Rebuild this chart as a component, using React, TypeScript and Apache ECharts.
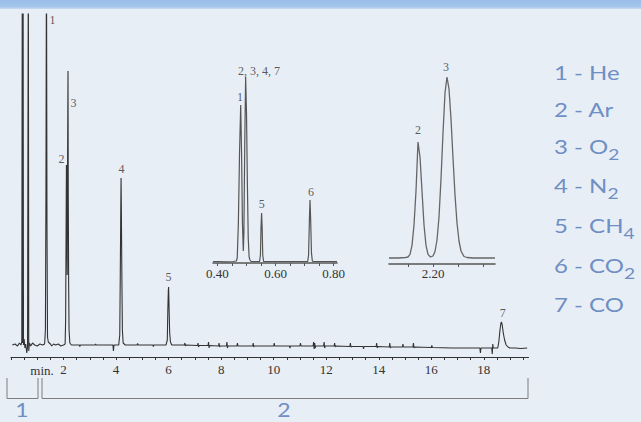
import React, { useEffect, useRef } from "react";
import * as echarts from "echarts";

// ---------- DATA ----------
// Main chromatogram: [time (min), signal]
const mainTrace: [number, number][] = [
  [0.05, 0], [0.15, 1], [0.25, -1], [0.32, 2], [0.38, 0], [0.41, 3], [0.43, 400], [0.445, 2], [0.46, 400], [0.475, 0],
  [0.5, 6], [0.53, -3], [0.56, 1], [0.6, -8], [0.63, -2], [0.66, 400], [0.675, -6], [0.7, 2], [0.75, -1], [0.82, 2],
  [0.9, 0], [1.0, -1], [1.1, 1], [1.2, 0], [1.28, 1], [1.31, 15], [1.33, 150], [1.35, 400], [1.37, 120], [1.39, 8],
  [1.42, 3], [1.5, 1], [1.55, -1], [1.62, 1], [1.7, 0], [1.8, 1], [1.9, -1], [2.0, 0], [2.06, 1], [2.08, 25],
  [2.1, 130], [2.11, 180], [2.12, 125], [2.14, 70], [2.155, 190], [2.17, 274], [2.18, 150], [2.195, 60], [2.21, 15], [2.24, 2],
  [2.3, 0], [2.6, 0], [2.62, -1.5], [2.64, 0], [3.2, 0], [3.22, 1], [3.24, 0], [3.88, 0], [3.9, -6], [3.92, 0],
  [4.1, 0], [4.14, 10], [4.16, 70], [4.18, 140], [4.19, 167], [4.2, 140], [4.22, 70], [4.24, 15], [4.27, 2], [4.35, 0],
  [4.8, 0], [4.82, 1.5], [4.84, 0], [5.4, 0], [5.42, -1.5], [5.44, 0], [5.9, 0], [5.95, 5], [5.97, 35], [5.99, 55],
  [6.0, 58], [6.02, 35], [6.04, 12], [6.07, 3], [6.12, 0], [6.6, 0], [6.62, 2], [6.64, -1], [6.66, 0], [7.1, -0.5],
  [7.12, 2], [7.14, -2], [7.16, -0.5], [7.5, -0.5], [7.52, 3], [7.54, -3], [7.56, -0.5], [7.9, -1], [7.92, 2], [7.94, -2],
  [7.96, -1], [8.2, -1], [8.22, 3], [8.24, -3], [8.26, -1], [8.6, -1], [8.62, 2], [8.64, -1], [9.2, -1], [9.22, 2],
  [9.24, -2], [9.26, -1], [10.0, -1], [10.02, 2], [10.04, -1], [10.6, -1], [10.62, -3], [10.64, -1], [11.0, -1], [11.02, 2],
  [11.04, -1], [11.5, -1], [11.52, 3], [11.54, -4], [11.56, 2], [11.58, -3], [11.6, -1], [11.9, -1], [11.92, 3], [11.94, -3],
  [11.96, -1], [12.3, -1], [12.32, 2], [12.34, -2], [12.36, -1], [12.9, -1.5], [12.92, 2], [12.94, -2], [12.96, -1.5], [13.4, -1.5],
  [13.42, -4], [13.44, -1.5], [13.9, -1.5], [13.92, 2], [13.94, -3], [13.96, -1.5], [14.4, -2], [14.42, 2], [14.44, -3], [14.46, -2],
  [14.9, -2], [14.92, 1], [14.94, -2], [15.3, -2], [15.32, 2], [15.34, -3], [15.36, -2], [16.0, -2.5], [16.02, -0.5], [16.04, -2.5],
  [16.8, -3], [17.4, -3], [17.85, -3], [17.87, -8], [17.89, -3], [18.3, -3], [18.32, -9], [18.34, 1], [18.36, -3], [18.53, -3],
  [18.57, 3], [18.61, 14], [18.65, 22], [18.67, 23], [18.7, 20], [18.74, 12], [18.79, 5], [18.85, 0], [18.92, -2], [18.99, -3],
  [19.2, -3], [19.4, -3.5], [19.65, -3],
];
const mainTicks = [
  0, 0.5, 1, 1.5, 2, 2.5, 3, 3.5, 4, 4.5, 5, 5.5, 6, 6.5, 7, 7.5, 8, 8.5, 9, 9.5,
  10, 10.5, 11, 11.5, 12, 12.5, 13, 13.5, 14, 14.5, 15, 15.5, 16, 16.5, 17, 17.5, 18, 18.5, 19, 19.5,
];
const mainTickLabels = [2, 4, 6, 8, 10, 12, 14, 16, 18];
const mainPeakLabels: [number, number, string][] = [
  [1.58, 325, "1"], [1.92, 186, "2"], [2.38, 242, "3"], [4.21, 176, "4"], [6.0, 68, "5"], [18.72, 32, "7"],
];

// Inset 1: 0.40 – 0.80 min
const inset1Trace: [number, number][] = [
  [0.3845, 1.5], [0.4, 1.5], [0.43, 1.2], [0.455, 1.5], [0.465, 2], [0.468, 5], [0.472, 40], [0.476, 110], [0.48, 158], [0.483, 110],
  [0.486, 40], [0.489, 12], [0.491, 30], [0.494, 120], [0.497, 186], [0.5, 150], [0.503, 80], [0.506, 25], [0.509, 6], [0.512, 3],
  [0.516, 1.5], [0.545, 1.5], [0.548, 8], [0.55, 35], [0.552, 50], [0.554, 35], [0.556, 8], [0.559, 1.5], [0.711, 1.5], [0.714, 8],
  [0.717, 45], [0.719, 63], [0.721, 45], [0.724, 10], [0.727, 2], [0.73, 1.5], [0.812, 1.5],
];
const inset1Ticks = [0.4, 0.45, 0.5, 0.55, 0.6, 0.65, 0.7, 0.75, 0.8];
const inset1TickLabels = [0.4, 0.6, 0.8];
const inset1PeakLabels: [number, number, string][] = [
  [0.4776, 166, "1"], [0.543, 192, "2, 3, 4, 7"], [0.553, 59, "5"], [0.722, 71, "6"],
];

// Inset 2: Ar / O2 separation around 2.20 min
const inset2Trace: [number, number][] = [
  [2.112, 6], [2.13, 6], [2.145, 6.5], [2.15, 7], [2.154, 9.6], [2.158, 18.6], [2.162, 39], [2.166, 73], [2.17, 122], [2.174, 107],
  [2.178, 73], [2.182, 39], [2.186, 18.6], [2.19, 9.6], [2.195, 7], [2.2, 8], [2.204, 12.5], [2.208, 24], [2.212, 47], [2.216, 85],
  [2.22, 131], [2.224, 171], [2.228, 187], [2.232, 175], [2.236, 145], [2.24, 106], [2.244, 69], [2.248, 41], [2.252, 23], [2.256, 13],
  [2.262, 7.5], [2.268, 6.5], [2.28, 6], [2.3, 6], [2.324, 6],
];
const inset2Ticks = [2.15, 2.2, 2.25, 2.3];
const inset2TickLabels = [2.2];
const inset2PeakLabels: [number, number, string][] = [
  [2.17, 134, "2"], [2.226, 197, "3"],
];

// Legend of compounds
const compounds: { num: string; name: string; sub: string }[] = [
  { num: "1", name: "He", sub: "" },
  { num: "2", name: "Ar", sub: "" },
  { num: "3", name: "O", sub: "2" },
  { num: "4", name: "N", sub: "2" },
  { num: "5", name: "CH", sub: "4" },
  { num: "6", name: "CO", sub: "2" },
  { num: "7", name: "CO", sub: "" },
];
const sectionLabels = ["1", "2"];

// ---------- STYLE / LAYOUT ----------
const BG = "#e8eef6";
const INK = "#333333";
const BLUE = "#6e8fc4";
const SERIF = "'Liberation Serif', 'DejaVu Serif', serif";
const SANS = "Lato, 'Noto Sans', sans-serif";
const legendY = [72, 109, 146, 185, 225, 265, 304];

const sameValue = (a: number, b: number) => Math.abs(a - b) < 1e-6;

export default function App() {
  const ref = useRef<HTMLDivElement>(null);

  useEffect(() => {
    document.body.style.margin = "0";
    if (!ref.current) return;
    const chart = echarts.init(ref.current, undefined, { renderer: "svg" });

    const hiddenY = (gridIndex: number, min: number, max: number) => ({
      type: "value", gridIndex, min, max, show: false,
      splitLine: { show: false },
    });

    const xAxisCommon = (
      gridIndex: number, min: number, max: number, ticks: number[], labels: number[],
      fmt: (v: number) => string, color: string, lineWidth: number, margin: number,
    ) => ({
      type: "value", gridIndex, min, max,
      splitLine: { show: false },
      axisLine: { show: true, onZero: false, lineStyle: { color, width: lineWidth } },
      axisTick: { show: true, length: 3, customValues: ticks, lineStyle: { color, width: 1 } },
      axisLabel: {
        show: true, customValues: labels, margin,
        formatter: (v: number) => (labels.some((l) => sameValue(l, v)) ? fmt(v) : ""),
        fontFamily: SERIF, fontSize: 13, color: INK,
      },
    });

    const labelSeries = (xi: number, data: [number, number, string][]) => ({
      type: "scatter", xAxisIndex: xi, yAxisIndex: xi, data,
      symbol: "circle", symbolSize: 1, itemStyle: { color: "rgba(0,0,0,0)" },
      silent: true, clip: false,
      label: {
        show: true, position: "inside",
        formatter: (p: any) => p.data[2],
        fontFamily: SERIF, fontSize: 12, color: INK,
        textBorderWidth: 0, textBorderColor: "rgba(0,0,0,0)",
      },
    });

    const lineSeries = (xi: number, data: [number, number][], color: string, width: number) => ({
      type: "line", xAxisIndex: xi, yAxisIndex: xi, data,
      symbol: "none", showSymbol: false, clip: true, silent: true,
      lineStyle: { color, width },
    });

    const bracketStyle = { stroke: "#7d7d7d", lineWidth: 1, fill: "none" };

    const graphics: any[] = [
      {
        type: "rect", left: 0, top: 0, shape: { x: 0, y: 0, width: 641, height: 9 },
        style: {
          fill: new echarts.graphic.LinearGradient(0, 0, 0, 1, [
            { offset: 0, color: "#98bde8" },
            { offset: 0.75, color: "#a6c6ec" },
            { offset: 1, color: "#c9daf0" },
          ]),
        },
        silent: true,
      },
      {
        type: "polyline", shape: { points: [[7, 378], [7, 398.5], [38, 398.5], [38, 378]] },
        style: bracketStyle, silent: true,
      },
      {
        type: "polyline", shape: { points: [[42, 378], [42, 398.5], [528, 398.5], [528, 378]] },
        style: bracketStyle, silent: true,
      },
      {
        type: "text", x: 22, y: 410, scaleX: 1.15,
        style: { text: sectionLabels[0], fill: BLUE, font: `20px ${SANS}`, align: "center", verticalAlign: "middle" },
        silent: true,
      },
      {
        type: "text", x: 284, y: 410, scaleX: 1.15,
        style: { text: sectionLabels[1], fill: BLUE, font: `20px ${SANS}`, align: "center", verticalAlign: "middle" },
        silent: true,
      },
      {
        type: "text", x: 42, y: 370,
        style: { text: "min.", fill: INK, font: `13px ${SERIF}`, align: "center", verticalAlign: "middle" },
        silent: true,
      },
    ];

    compounds.forEach((c, i) => {
      const text = c.sub ? `{m|${c.num} - ${c.name}}{s|${c.sub}}` : `{m|${c.num} - ${c.name}}`;
      graphics.push({
        type: "text", x: 554, y: legendY[i], scaleX: 1.2, silent: true,
        style: {
          text, align: "left", verticalAlign: "middle", fill: BLUE,
          rich: {
            m: { fontFamily: SANS, fontSize: 20, lineHeight: 32, fill: BLUE, color: BLUE },
            s: { fontFamily: SANS, fontSize: 16, lineHeight: 16, verticalAlign: "bottom", fill: BLUE, color: BLUE },
          },
        },
      });
    });

    const option: any = {
      animation: false,
      backgroundColor: BG,
      grid: [
        { left: 11, top: 14, width: 517.5, height: 343, containLabel: false, outerBoundsMode: "none" },
        { left: 213, top: 50, width: 124, height: 213, containLabel: false, outerBoundsMode: "none" },
        { left: 389, top: 50, width: 106, height: 214, containLabel: false, outerBoundsMode: "none" },
      ],
      xAxis: [
        xAxisCommon(0, 0, 19.7, mainTicks, mainTickLabels, (v) => String(v), INK, 1.2, 6),
        xAxisCommon(1, 0.3845, 0.812, inset1Ticks, inset1TickLabels, (v) => v.toFixed(2), "#555", 1.6, 4),
        xAxisCommon(2, 2.112, 2.324, inset2Ticks, inset2TickLabels, (v) => v.toFixed(2), "#555", 1.6, 3),
      ],
      yAxis: [hiddenY(0, -12, 331), hiddenY(1, 0, 213), hiddenY(2, 0, 214)],
      series: [
        lineSeries(0, mainTrace, INK, 1.1),
        lineSeries(1, inset1Trace, "#555", 1.2),
        lineSeries(2, inset2Trace, "#666", 1.3),
        labelSeries(0, mainPeakLabels),
        labelSeries(1, inset1PeakLabels),
        labelSeries(2, inset2PeakLabels),
      ],
      graphic: graphics,
    };

    chart.setOption(option);
    return () => chart.dispose();
  }, []);

  return (
    <div
      ref={ref}
      style={{ position: "absolute", left: 0, top: 0, width: 641, height: 422 }}
    />
  );
}
